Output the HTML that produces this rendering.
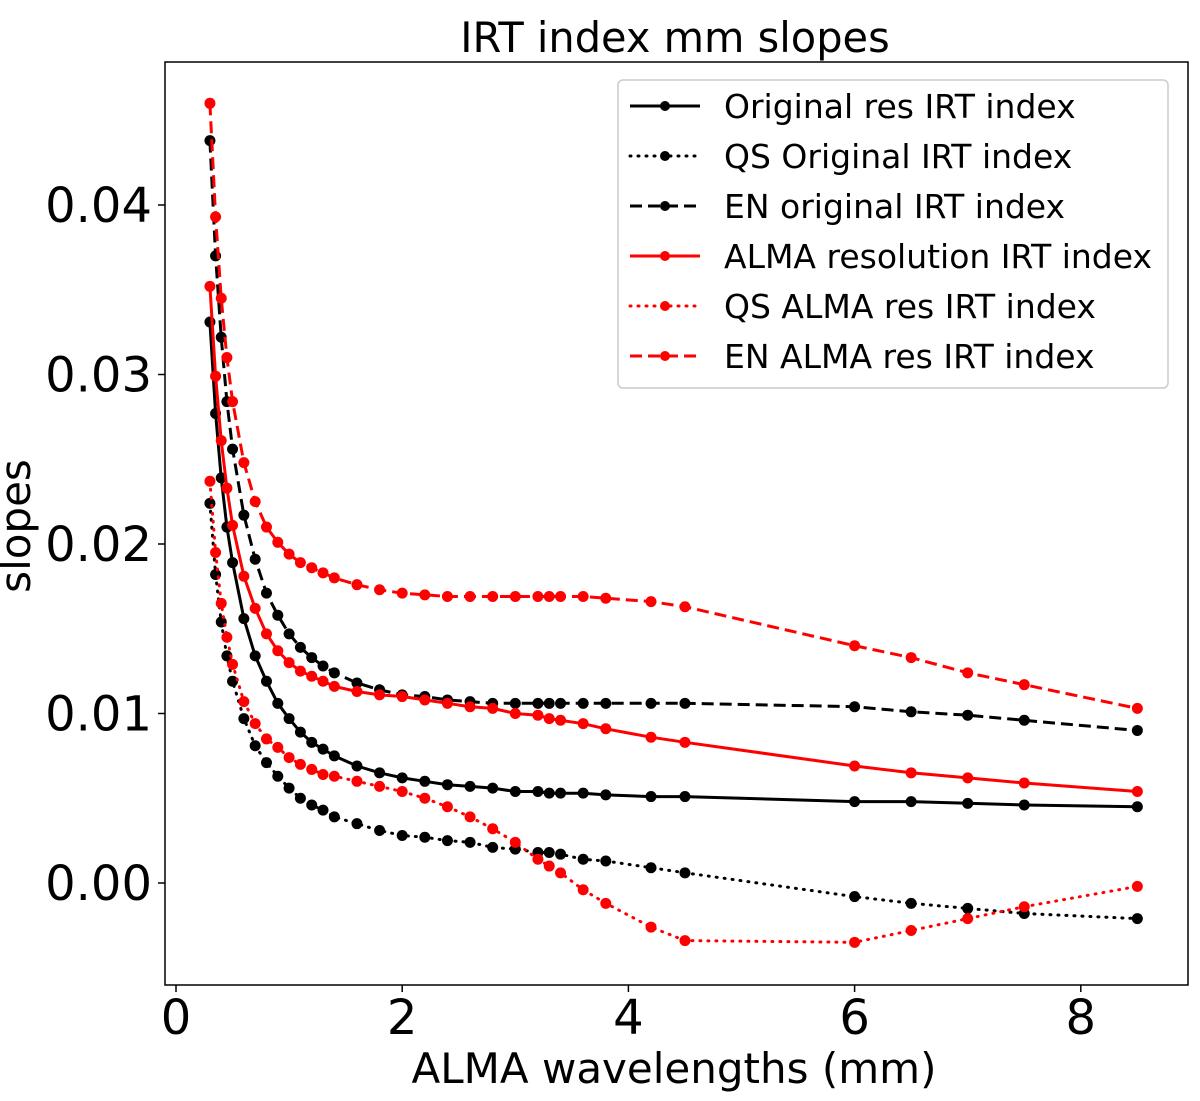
<!DOCTYPE html>
<html><head><meta charset="utf-8"><style>
html,body{margin:0;padding:0;background:#fff;}
svg text{font-family:"DejaVu Sans","Liberation Sans",sans-serif;}
</style></head><body>
<svg id="chart" width="1200" height="1096" viewBox="0 0 1200 1096" xmlns="http://www.w3.org/2000/svg">
<text x="675" y="52" font-size="41.5" text-anchor="middle">IRT index mm slopes</text>
<g id="plot"></g>
<rect x="165" y="62" width="1023" height="923" fill="none" stroke="#000" stroke-width="1.5"/>
<g id="ticks"></g>
<text x="674" y="1083" font-size="42" text-anchor="middle">ALMA wavelengths (mm)</text>
<text x="0" y="0" font-size="42" text-anchor="middle" transform="translate(30,526) rotate(-90)">slopes</text>
<g id="legend"></g>
</svg>
<script>
const xs = [0.3,0.35,0.4,0.45,0.5,0.6,0.7,0.8,0.9,1.0,1.1,1.2,1.3,1.4,1.6,1.8,2.0,2.2,2.4,2.6,2.8,3.0,3.2,3.3,3.4,3.6,3.8,4.2,4.5,6.0,6.5,7.0,7.5,8.5];
const origRes = [.0331,.0277,.0239,.0210,.0189,.0156,.0134,.0119,.0106,.0097,.0089,.0083,.0079,.0075,.0069,.0065,.0062,.0060,.0058,.0057,.0056,.0054,.0054,.0053,.0053,.0053,.0052,.0051,.0051,.0048,.0048,.0047,.0046,.0045];
const qsOrig = [.0224,.0182,.0154,.0134,.0119,.0097,.0081,.0071,.0063,.0056,.0050,.0046,.0043,.0039,.0035,.0031,.0028,.0027,.0025,.0024,.0021,.0020,.0018,.0018,.0017,.0014,.0013,.0009,.0006,-.0008,-.0012,-.0015,-.0018,-.0021];
const enOrig = [.0438,.0370,.0322,.0284,.0256,.0217,.0191,.0171,.0158,.0147,.0139,.0133,.0128,.0124,.0118,.0114,.0111,.0110,.0108,.0107,.0106,.0106,.0106,.0106,.0106,.0106,.0106,.0106,.0106,.0104,.0101,.0099,.0096,.0090];
const almaRes = [.0352,.0299,.0261,.0233,.0211,.0181,.0162,.0147,.0137,.0130,.0125,.0122,.0119,.0116,.0113,.0111,.0110,.0108,.0106,.0104,.0103,.0100,.0099,.0097,.0096,.0094,.0091,.0086,.0083,.0069,.0065,.0062,.0059,.0054];
const qsAlma = [.0237,.0195,.0165,.0145,.0129,.0107,.0094,.0085,.0080,.0074,.0070,.0067,.0064,.0063,.0060,.0057,.0054,.0050,.0045,.0039,.0032,.0024,.0014,.0010,.0006,-.0004,-.0012,-.0026,-.0034,-.0035,-.0028,-.0021,-.0014,-.0002];
const enAlma = [.0460,.0393,.0345,.0310,.0284,.0248,.0225,.0210,.0201,.0194,.0189,.0186,.0183,.0180,.0176,.0173,.0171,.0170,.0169,.0169,.0169,.0169,.0169,.0169,.0169,.0169,.0168,.0166,.0163,.0140,.0133,.0124,.0117,.0103];
const xTicks = [0,2,4,6,8];
const xTickLabels = ["0","2","4","6","8"];
const yTicks = [0,0.01,0.02,0.03,0.04];
const yTickLabels = ["0.00","0.01","0.02","0.03","0.04"];
const seriesNames = ["Original res IRT index","QS Original IRT index","EN original IRT index","ALMA resolution IRT index","QS ALMA res IRT index","EN ALMA res IRT index"];

const NS="http://www.w3.org/2000/svg";
function X(v){return 176+v*113.1;}
function Y(v){return 883-v*16950;}
function mk(tag,attrs,parent){const e=document.createElementNS(NS,tag);for(const k in attrs)e.setAttribute(k,attrs[k]);parent.appendChild(e);return e;}
const styles=[
 {c:"#000",d:"none",r:5.5},
 {c:"#000",d:"dot",r:5.5},
 {c:"#000",d:"12,6",r:5.5},
 {c:"#ff0000",d:"none",r:5.5},
 {c:"#ff0000",d:"dot",r:5.5},
 {c:"#ff0000",d:"12,6",r:5.5}];
const data=[origRes,qsOrig,enOrig,almaRes,qsAlma,enAlma];
const slugs=["original-res","qs-original","en-original","alma-res","qs-alma","en-alma"];
const plot=document.getElementById('plot');
data.forEach((s,i)=>{
 const g=mk('g',{},plot);
 
 
 const pts=s.map((v,j)=>X(xs[j]).toFixed(1)+','+Y(v).toFixed(1)).join(' ');
 const a={points:pts,fill:'none',stroke:styles[i].c,'stroke-width':3};
 if(styles[i].d==='12,6'){a['stroke-dasharray']='12,6';}
 if(styles[i].d==='dot'){a['stroke-linecap']='round';a['stroke-dasharray']='1,7';}
 const pl=mk('polyline',a,g);
 
 
 s.forEach((v,j)=>{
  const c=mk('circle',{cx:X(xs[j]),cy:Y(v),r:styles[i].r,fill:styles[i].c},g);
  
  
 });
});
const ticks=document.getElementById('ticks');
xTicks.forEach((t,i)=>{
 const l=mk('line',{x1:X(t),x2:X(t),y1:985,y2:992,stroke:'#000','stroke-width':1.5},ticks);
 
 
 const tx=mk('text',{x:X(t),y:1034,'font-size':48,'text-anchor':'middle'},ticks);
 tx.textContent=xTickLabels[i];
 
 
});
yTicks.forEach((t,i)=>{
 const l=mk('line',{x1:158,x2:165,y1:Y(t),y2:Y(t),stroke:'#000','stroke-width':1.5},ticks);
 
 
 const tx=mk('text',{x:152,y:Y(t)+17,'font-size':48,'text-anchor':'end'},ticks);
 tx.textContent=yTickLabels[i];
 
 
});
const leg=document.getElementById('legend');
const box=mk('rect',{x:618,y:80,width:550,height:308,rx:5,fill:'#fff',stroke:'#ccc','stroke-width':1.5,'fill-opacity':0.85},leg);


seriesNames.forEach((n,i)=>{
 const y=106+i*50;
 const g=mk('g',{},leg);
 
 
 const a={x1:630,x2:700,y1:y,y2:y,stroke:styles[i].c,'stroke-width':3};
 if(styles[i].d==='12,6')a['stroke-dasharray']='12,6';
 if(styles[i].d==='dot'){a['stroke-dasharray']='1,7';a['stroke-linecap']='round';}
 mk('line',a,g);
 mk('circle',{cx:665,cy:y,r:5,fill:styles[i].c},g);
 const t=mk('text',{x:724,y:y+12,'font-size':33},g);
 t.textContent=n;
});
</script>
</body></html>
